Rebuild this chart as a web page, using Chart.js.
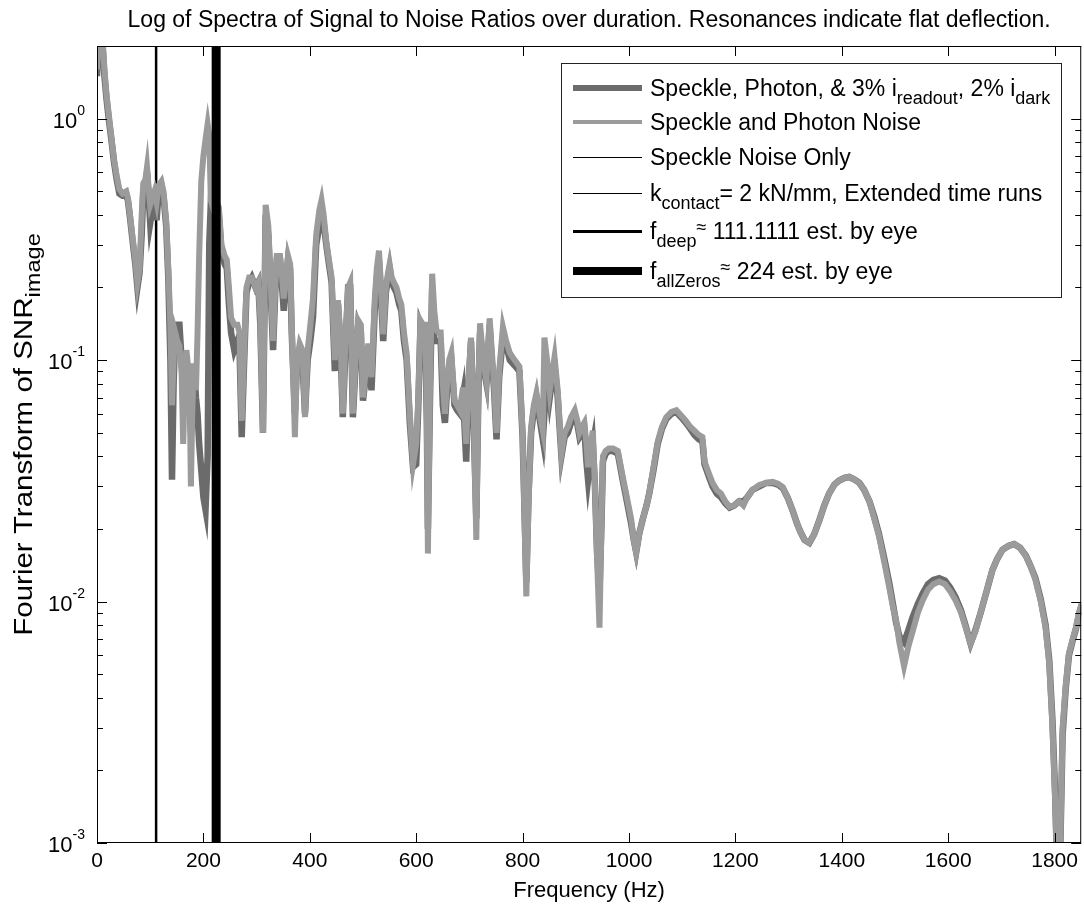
<!DOCTYPE html>
<html>
<head>
<meta charset="utf-8">
<script src="https://cdn.jsdelivr.net/npm/chart.js@4.4.1/dist/chart.umd.min.js"></script>
<style>
  html, body { margin: 0; padding: 0; background: #fff; }
  #wrap { width: 1084px; height: 907px; position: relative; }
</style>
</head>
<body>
<div id="wrap"><canvas id="graf-snr"></canvas></div>
<script>
// frequencies (Hz)
const freqHz = [
  0, 4, 10, 14, 18, 22, 27, 32, 37, 42,
  48, 55, 58, 62, 67, 72, 76, 80, 84, 87,
  91, 94, 97, 100, 104, 108, 112, 116, 121, 125,
  130, 134, 138, 141, 144, 147, 151, 155, 159, 162,
  165, 168, 171, 174, 176.5, 179, 182, 186, 189, 192,
  196, 200, 204, 208, 211, 214, 219, 224, 229, 234,
  240, 244, 248, 252, 258, 264, 268, 272, 276, 281,
  286, 291, 298, 303, 307, 312, 317, 322, 327, 331,
  335, 338, 344, 348, 351, 355, 359, 363, 366, 372,
  376, 381, 386, 391, 396, 401, 406, 412, 418, 422,
  426, 431, 436, 441, 447, 453, 458, 462, 467, 472,
  476, 481, 486, 491, 496, 500, 505, 510, 516, 522,
  526, 530, 534, 538, 543, 547, 550, 554, 558, 563,
  568, 572, 577, 582, 588, 594, 600, 604, 608, 613,
  617, 620, 622, 626, 630, 634, 638, 642, 646, 650,
  654, 658, 662, 666, 672, 677, 682, 688, 694, 698,
  703, 708, 713, 717, 720, 726, 732, 738, 742, 746,
  751, 756, 763, 769, 776, 785, 794, 800, 804, 807,
  811, 816, 821, 826, 832, 838, 841, 846, 851, 856,
  860, 866, 873, 879, 885, 891, 898, 903, 907, 912,
  916, 920, 923, 928, 932, 936, 940, 944.5, 948, 951,
  956, 962, 970, 979, 988, 996, 1004, 1009, 1013.5, 1019,
  1026, 1033, 1038, 1046, 1054, 1062, 1070, 1080, 1089, 1098,
  1107, 1115, 1123, 1131, 1138, 1142, 1150, 1157, 1165, 1173,
  1181, 1189, 1198, 1207, 1215, 1222, 1232, 1245, 1258, 1270,
  1280, 1289, 1298, 1307, 1316, 1322, 1330, 1339, 1348, 1358,
  1367, 1376, 1386, 1395, 1405, 1414, 1424, 1433, 1442, 1452,
  1461, 1470, 1480, 1489, 1496, 1502, 1508, 1517, 1525, 1533,
  1543, 1552, 1562, 1572, 1583, 1594, 1604, 1614, 1624, 1633,
  1642, 1651, 1661, 1672, 1683, 1692, 1702, 1713, 1724, 1735,
  1746, 1755, 1764, 1774, 1783, 1790, 1796, 1801, 1806, 1810,
  1815, 1821, 1827, 1834, 1840, 1846, 1851
];

// Speckle, Photon, & 3% i_readout, 2% i_dark (dark grey)
const snrReadoutDark = [
  1.5, 2.4, 2.1, 1.5, 1.2, 1.0, 0.82, 0.66, 0.56, 0.49,
  0.48, 0.48, 0.46, 0.39, 0.31, 0.25, 0.20, 0.23, 0.33, 0.50,
  0.52, 0.60, 0.48, 0.37, 0.42, 0.45, 0.38, 0.50, 0.53, 0.48,
  0.36, 0.22, 0.10, 0.032, 0.08, 0.13, 0.14, 0.14, 0.10, 0.07,
  0.06, 0.10, 0.09, 0.075, 0.05, 0.06, 0.095, 0.07, 0.06, 0.045,
  0.035, 0.027, 0.024, 0.04, 0.30, 0.45, 0.40, 0.42, 0.40, 0.28,
  0.25, 0.24, 0.17, 0.13, 0.11, 0.12, 0.11, 0.048, 0.09, 0.19,
  0.21, 0.22, 0.20, 0.21, 0.14, 0.05, 0.40, 0.33, 0.18, 0.11,
  0.19, 0.26, 0.26, 0.20, 0.16, 0.21, 0.26, 0.24, 0.13, 0.06,
  0.10, 0.105, 0.10, 0.06, 0.10, 0.12, 0.15, 0.30, 0.36, 0.38,
  0.37, 0.30, 0.25, 0.21, 0.09, 0.17, 0.11, 0.058, 0.11, 0.20,
  0.20, 0.058, 0.095, 0.14, 0.13, 0.068, 0.085, 0.11, 0.075, 0.16,
  0.22, 0.26, 0.18, 0.12, 0.19, 0.22, 0.24, 0.21, 0.20, 0.19,
  0.17, 0.16, 0.12, 0.10, 0.055, 0.036, 0.037, 0.065, 0.14, 0.13,
  0.13, 0.055, 0.02, 0.07, 0.20, 0.12, 0.12, 0.12, 0.12, 0.065,
  0.055, 0.075, 0.095, 0.10, 0.065, 0.062, 0.06, 0.072, 0.038, 0.075,
  0.12, 0.055, 0.022, 0.075, 0.13, 0.095, 0.08, 0.14, 0.10, 0.078,
  0.047, 0.085, 0.125, 0.115, 0.10, 0.095, 0.09, 0.048, 0.022, 0.012,
  0.027, 0.05, 0.062, 0.07, 0.057, 0.047, 0.06, 0.09, 0.07, 0.085,
  0.095, 0.07, 0.04, 0.048, 0.05, 0.055, 0.058, 0.054, 0.048, 0.05,
  0.052, 0.038, 0.032, 0.04, 0.045, 0.03, 0.016, 0.011, 0.02, 0.038,
  0.041, 0.042, 0.042, 0.041, 0.032, 0.026, 0.021, 0.018, 0.016, 0.019,
  0.022, 0.025, 0.028, 0.035, 0.045, 0.052, 0.057, 0.060, 0.061, 0.058,
  0.055, 0.052, 0.049, 0.047, 0.046, 0.037, 0.033, 0.030, 0.028, 0.027,
  0.0255, 0.0245, 0.025, 0.026, 0.026, 0.027, 0.029, 0.030, 0.031, 0.031,
  0.0305, 0.0295, 0.027, 0.024, 0.021, 0.0195, 0.018, 0.0175, 0.019, 0.0218,
  0.025, 0.028, 0.0305, 0.0317, 0.0325, 0.0328, 0.032, 0.031, 0.029, 0.026,
  0.0225, 0.019, 0.015, 0.012, 0.0098, 0.0082, 0.0072, 0.0068, 0.0076, 0.0086,
  0.0098, 0.0108, 0.0118, 0.0123, 0.0125, 0.0122, 0.0114, 0.0104, 0.0092, 0.0079,
  0.0067, 0.0076, 0.009, 0.011, 0.0135, 0.015, 0.0164, 0.017, 0.0173, 0.0167,
  0.0155, 0.014, 0.0125, 0.0102, 0.008, 0.0057, 0.0032, 0.0016, 0.0006, 0.0008,
  0.0028, 0.0044, 0.006, 0.0069, 0.0077, 0.0089, 0.0097
];

// Speckle and Photon Noise (light grey)
const snrSpecklePhoton = [
  1.6, 2.4, 2.2, 1.6, 1.25, 1.05, 0.84, 0.68, 0.58, 0.51,
  0.49, 0.50, 0.47, 0.40, 0.32, 0.26, 0.21, 0.24, 0.40, 0.54,
  0.56, 0.63, 0.52, 0.44, 0.47, 0.50, 0.45, 0.53, 0.55, 0.50,
  0.38, 0.24, 0.14, 0.065, 0.10, 0.13, 0.12, 0.115, 0.09, 0.045,
  0.08, 0.11, 0.095, 0.08, 0.03, 0.06, 0.097, 0.075, 0.13, 0.27,
  0.55, 0.70, 0.82, 0.95, 0.85, 0.46, 0.42, 0.45, 0.43, 0.30,
  0.27, 0.26, 0.20, 0.15, 0.14, 0.14, 0.13, 0.056, 0.10, 0.20,
  0.22, 0.22, 0.20, 0.21, 0.15, 0.05, 0.44, 0.36, 0.20, 0.12,
  0.20, 0.27, 0.27, 0.22, 0.18, 0.22, 0.27, 0.25, 0.14, 0.048,
  0.10, 0.117, 0.11, 0.058, 0.11, 0.14, 0.18, 0.33, 0.42, 0.46,
  0.40, 0.31, 0.26, 0.22, 0.10, 0.177, 0.12, 0.06, 0.12, 0.20,
  0.21, 0.06, 0.10, 0.146, 0.14, 0.07, 0.09, 0.117, 0.085, 0.177,
  0.24, 0.284, 0.20, 0.128, 0.20, 0.23, 0.25, 0.22, 0.21, 0.20,
  0.18, 0.17, 0.13, 0.107, 0.06, 0.037, 0.045, 0.07, 0.146, 0.14,
  0.14, 0.06, 0.0158, 0.08, 0.228, 0.16, 0.133, 0.13, 0.13, 0.08,
  0.06, 0.08, 0.10, 0.107, 0.068, 0.065, 0.062, 0.077, 0.045, 0.08,
  0.124, 0.06, 0.018, 0.08, 0.142, 0.10, 0.082, 0.149, 0.11, 0.082,
  0.05, 0.09, 0.137, 0.12, 0.107, 0.10, 0.094, 0.05, 0.02, 0.0105,
  0.025, 0.053, 0.065, 0.073, 0.06, 0.051, 0.124, 0.10, 0.075, 0.09,
  0.103, 0.075, 0.041, 0.05, 0.053, 0.058, 0.062, 0.056, 0.05, 0.053,
  0.055, 0.045, 0.036, 0.045, 0.051, 0.03, 0.015, 0.0078, 0.02, 0.04,
  0.042, 0.043, 0.043, 0.042, 0.033, 0.027, 0.022, 0.018, 0.016, 0.019,
  0.022, 0.025, 0.028, 0.036, 0.046, 0.053, 0.058, 0.061, 0.062, 0.059,
  0.056, 0.053, 0.051, 0.049, 0.048, 0.038, 0.034, 0.031, 0.029, 0.028,
  0.026, 0.0247, 0.025, 0.026, 0.025, 0.027, 0.029, 0.0304, 0.031, 0.0313,
  0.0308, 0.0298, 0.027, 0.024, 0.021, 0.0195, 0.018, 0.0175, 0.019, 0.0218,
  0.025, 0.028, 0.0305, 0.0317, 0.0325, 0.0328, 0.032, 0.031, 0.029, 0.026,
  0.022, 0.0186, 0.0145, 0.0115, 0.0095, 0.0084, 0.0068, 0.0054, 0.0065, 0.0075,
  0.009, 0.0101, 0.0112, 0.0118, 0.0121, 0.0118, 0.011, 0.0101, 0.009, 0.0078,
  0.0067, 0.0075, 0.009, 0.011, 0.0135, 0.015, 0.0164, 0.017, 0.0173, 0.0167,
  0.0154, 0.014, 0.0123, 0.010, 0.0078, 0.0055, 0.003, 0.0015, 0.0006, 0.0008,
  0.003, 0.0045, 0.0061, 0.007, 0.0078, 0.009, 0.0098
];

// resonance markers (Hz)
const fDeep = 111.1111;
const fAllZeros = 224;

const xMin = 0, xMax = 1850;
const yMin = 0.001, yMax = 2;
const xTickValues = [0, 200, 400, 600, 800, 1000, 1200, 1400, 1600, 1800];
const yTickValues = [0.001, 0.01, 0.1, 1];
const yTickExponents = ["-3", "-2", "-1", "0"];

const titleText = "Log of Spectra of Signal to Noise Ratios over duration. Resonances indicate flat deflection.";
const xTitle = "Frequency (Hz)";
const yTitleParts = [{ t: "Fourier Transform of SNR" }, { t: "image", sub: true }];

const DARK = "#6b6b6b";
const LIGHT = "#9b9b9b";
const FONT = '"Liberation Sans", Arial, sans-serif';

const legendEntries = [
  { color: DARK, width: 6, parts: [{ t: "Speckle, Photon, & 3% i" }, { t: "readout", sub: true }, { t: ", 2% i" }, { t: "dark", sub: true }] },
  { color: LIGHT, width: 4, parts: [{ t: "Speckle and Photon Noise" }] },
  { color: "#000", width: 1, parts: [{ t: "Speckle Noise Only" }] },
  { color: "#000", width: 1, parts: [{ t: "k" }, { t: "contact", sub: true }, { t: "= 2 kN/mm, Extended time runs" }] },
  { color: "#000", width: 3, parts: [{ t: "f" }, { t: "deep", sub: true }, { t: "\u2248", sup: true }, { t: " 111.1111 est. by eye" }] },
  { color: "#000", width: 8, parts: [{ t: "f" }, { t: "allZeros", sub: true }, { t: "\u2248", sup: true }, { t: " 224 est. by eye" }] }
];

function drawRich(ctx, parts, x, y, size) {
  parts.forEach(p => {
    const s = (p.sub || p.sup) ? Math.round(size * 0.78) : size;
    ctx.font = s + "px " + FONT;
    const dy = p.sub ? size * 0.33 : (p.sup ? -size * 0.28 : 0);
    ctx.fillText(p.t, x, y + dy);
    x += ctx.measureText(p.t).width;
  });
  return x;
}

function richWidth(ctx, parts, size) {
  let w = 0;
  parts.forEach(p => {
    const s = (p.sub || p.sup) ? Math.round(size * 0.78) : size;
    ctx.font = s + "px " + FONT;
    w += ctx.measureText(p.t).width;
  });
  return w;
}

// MATLAB style frame, inward ticks, labels and legend
const matlabLook = {
  id: "matlabLook",
  afterDraw(chart) {
    const { ctx, chartArea: a, scales: { x, y } } = chart;
    ctx.save();
    ctx.strokeStyle = "#000";
    ctx.lineWidth = 1;
    ctx.strokeRect(a.left + 0.5, a.top + 0.5, a.right - a.left - 1, a.bottom - a.top - 1);

    ctx.beginPath();
    xTickValues.forEach(v => {
      const px = Math.round(x.getPixelForValue(v)) + 0.5;
      ctx.moveTo(px, a.bottom); ctx.lineTo(px, a.bottom - 10);
      ctx.moveTo(px, a.top); ctx.lineTo(px, a.top + 10);
    });
    for (let d = -3; d <= 0; d++) {
      for (let m = 1; m <= 9; m++) {
        const v = m * Math.pow(10, d);
        if (v > yMax) continue;
        const py = Math.round(y.getPixelForValue(v)) + 0.5;
        const len = m === 1 ? 10 : 6;
        ctx.moveTo(a.left, py); ctx.lineTo(a.left + len, py);
        ctx.moveTo(a.right, py); ctx.lineTo(a.right - len, py);
      }
    }
    ctx.stroke();

    // y tick labels 10^n
    ctx.fillStyle = "#000";
    ctx.textAlign = "left";
    ctx.textBaseline = "alphabetic";
    yTickValues.forEach((v, i) => {
      const py = y.getPixelForValue(v);
      ctx.font = "14px " + FONT;
      const ew = ctx.measureText(yTickExponents[i]).width;
      ctx.font = "22px " + FONT;
      const bw = ctx.measureText("10").width;
      const right = a.left - 12;
      ctx.fillText("10", right - ew - bw, py + 9);
      ctx.font = "14px " + FONT;
      ctx.fillText(yTickExponents[i], right - ew, py - 4);
    });

    // y axis title
    const ySize = 25;
    const stretch = 1.18;
    const yw = richWidth(ctx, yTitleParts, ySize) * stretch;
    ctx.save();
    ctx.translate(32, (a.top + a.bottom) / 2 - 10 + yw / 2);
    ctx.rotate(-Math.PI / 2);
    ctx.scale(stretch, 1);
    drawRich(ctx, yTitleParts, 0, 0, ySize);
    ctx.restore();

    // title
    ctx.font = "23px " + FONT;
    ctx.textAlign = "center";
    ctx.fillText(titleText, (a.left + a.right) / 2, 27);

    // legend
    const lx = 561, ly = 63, lw = 500, lh = 234;
    ctx.fillStyle = "#fff";
    ctx.fillRect(lx, ly, lw, lh);
    ctx.strokeStyle = "#222";
    ctx.lineWidth = 1;
    ctx.strokeRect(lx + 0.5, ly + 0.5, lw, lh);
    const rows = [88, 122, 157, 193, 231, 271];
    ctx.textAlign = "left";
    legendEntries.forEach((e, i) => {
      const ry = rows[i] + (e.width % 2 === 1 ? 0.5 : 0);
      ctx.strokeStyle = e.color;
      ctx.lineWidth = e.width;
      ctx.beginPath();
      ctx.moveTo(573, ry);
      ctx.lineTo(642, ry);
      ctx.stroke();
      ctx.fillStyle = "#000";
      drawRich(ctx, e.parts, 650, rows[i] + 8, 23);
    });
    ctx.restore();
  }
};

const toPoints = vals => freqHz.map((f, i) => ({ x: f, y: vals[i] }));

new Chart(document.getElementById("graf-snr"), {
  type: "line",
  data: {
    datasets: [
      {
        label: "f_deep",
        data: [{ x: fDeep, y: yMin }, { x: fDeep, y: yMax }],
        borderColor: "#000", borderWidth: 2.5, pointRadius: 0, order: 4, clip: 0
      },
      {
        label: "Speckle, Photon, & 3% i_readout, 2% i_dark",
        data: toPoints(snrReadoutDark),
        borderColor: DARK, borderWidth: 6.5, pointRadius: 0, tension: 0, order: 3, clip: 0
      },
      {
        label: "Speckle and Photon Noise",
        data: toPoints(snrSpecklePhoton),
        borderColor: LIGHT, borderWidth: 6, pointRadius: 0, tension: 0, order: 2, clip: 0
      },
      {
        label: "f_allZeros",
        data: [{ x: fAllZeros, y: yMin }, { x: fAllZeros, y: yMax }],
        borderColor: "#000", borderWidth: 9, pointRadius: 0, order: 1, clip: 0
      }
    ]
  },
  options: {
    responsive: true,
    maintainAspectRatio: false,
    animation: false,
    layout: { padding: { top: 46, right: 1, left: 0, bottom: 0 } },
    plugins: {
      legend: { display: false },
      title: { display: false },
      tooltip: { enabled: false }
    },
    scales: {
      x: {
        type: "linear",
        min: xMin,
        max: xMax,
        afterBuildTicks: s => { s.ticks = xTickValues.map(v => ({ value: v })); },
        afterFit: s => { s.height = 64; },
        grid: { display: false, drawTicks: false },
        border: { display: false },
        ticks: {
          color: "#000", font: { size: 21, family: FONT }, padding: 6, maxRotation: 0, autoSkip: false,
          callback: v => String(v)
        },
        title: { display: true, text: xTitle, color: "#000", font: { size: 22, family: FONT }, padding: { top: 0, bottom: 3 } }
      },
      y: {
        type: "logarithmic",
        min: yMin,
        max: yMax,
        afterBuildTicks: s => { s.ticks = yTickValues.map(v => ({ value: v })); },
        afterFit: s => { s.width = 97; },
        grid: { display: false, drawTicks: false },
        border: { display: false },
        ticks: { display: false }
      }
    }
  },
  plugins: [matlabLook]
});
</script>
</body>
</html>
